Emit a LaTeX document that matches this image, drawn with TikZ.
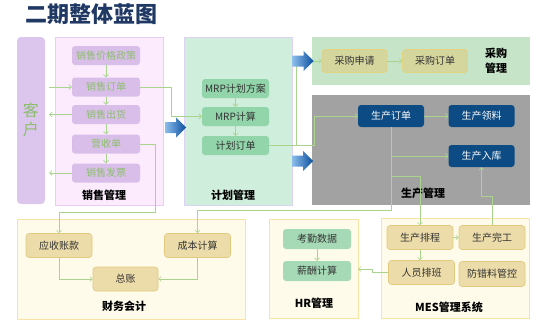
\documentclass[tikz,border=0pt]{standalone}
\usepackage{fontspec}
\setmainfont{Noto Sans CJK SC}
\usetikzlibrary{arrows.meta}
\definecolor{navy}{HTML}{1F3864}
\definecolor{custfill}{HTML}{DCC6EE}
\definecolor{salesbg}{HTML}{FBEBFD}
\definecolor{salesbd}{HTML}{EBCDF3}
\definecolor{salesnode}{HTML}{D9BEEA}
\definecolor{salestext}{HTML}{8CBE6C}
\definecolor{planbg}{HTML}{CFEEDC}
\definecolor{planbd}{HTML}{DCD2F2}
\definecolor{plannode}{HTML}{92D5AA}
\definecolor{procbg}{HTML}{C6E5C8}
\definecolor{procnode}{HTML}{D5D59E}
\definecolor{procbd}{HTML}{E3D27E}
\definecolor{prodbg}{HTML}{A2A2A2}
\definecolor{prodnode}{HTML}{0C4B83}
\definecolor{finbg}{HTML}{FEFBEA}
\definecolor{finbd}{HTML}{F8E3A2}
\definecolor{finnode}{HTML}{ECDCA9}
\definecolor{finnodebd}{HTML}{E2C97C}
\definecolor{hrnode}{HTML}{A6DAB6}
\definecolor{conn}{HTML}{A9D48E}
\definecolor{txt}{HTML}{333333}
\definecolor{arrowlight}{HTML}{8CBDEB}
\definecolor{arrowdark}{HTML}{0B4F9E}
\begin{document}
\begin{tikzpicture}[x=1pt,y=-1pt,
  panel/.style={rectangle, inner sep=0pt},
  box/.style={rectangle, rounded corners=3pt, inner sep=1pt, font=\fontsize{10}{12}\selectfont, text=txt},
  sn/.style={box, fill=salesnode, text=salestext, minimum width=68pt, minimum height=19pt},
  pn/.style={box, fill=plannode, minimum width=67pt, minimum height=19pt},
  cn/.style={box, fill=procnode, draw=procbd, line width=0.6pt, minimum width=65pt, minimum height=23pt},
  dn/.style={box, fill=prodnode, text=white, minimum width=66pt, minimum height=22pt},
  fn/.style={box, fill=finnode, draw=finnodebd, line width=0.6pt, minimum width=66pt, minimum height=24pt},
  hn/.style={box, fill=hrnode, minimum width=68pt, minimum height=20pt},
  grouptitle/.style={font=\fontsize{11}{15}\selectfont\bfseries, text=black, inner sep=0pt, align=center},
  cl/.style={draw=conn, line width=0.6pt},
  ca/.style={cl, -{Straight Barb[length=2.5pt,width=5pt]}},
  bluearrow/.style={left color=arrowlight, right color=arrowdark, draw=none}
]
\useasboundingbox (0,0) rectangle (554,324);

% title
\node[font=\fontsize{22}{24}\selectfont\bfseries, text=navy] (title) at (91,14) {二期整体蓝图};

% panels
\node[panel, fill=custfill, rounded corners=4pt, minimum width=28pt, minimum height=167pt] (kh) at (31,120.5) {};
\node[font=\fontsize{16}{19}\selectfont, text=salestext, align=center, inner sep=0pt] (khtext) at (31,120) {客\\户};
\node[panel, fill=salesbg, draw=salesbd, line width=0.8pt, minimum width=108pt, minimum height=168pt] (salesbg) at (109,121) {};
\node[panel, fill=planbg, draw=planbd, line width=0.8pt, minimum width=108pt, minimum height=168pt] (planbg) at (238,121) {};
\node[panel, fill=procbg, minimum width=218pt, minimum height=48pt] (procbg) at (421,61) {};
\node[panel, fill=prodbg, minimum width=218pt, minimum height=110pt] (prodbg) at (421,150) {};
\node[panel, fill=finbg, draw=finbd, line width=0.8pt, minimum width=228pt, minimum height=100pt] (finbg) at (131,269) {};
\node[panel, fill=finbg, draw=finbd, line width=0.8pt, minimum width=89pt, minimum height=99pt] (hrbg) at (313.5,268.5) {};
\node[panel, fill=finbg, draw=finbd, line width=0.8pt, minimum width=148pt, minimum height=100pt] (mesbg) at (455,268) {};

% sales nodes
\node[sn] (jgzc) at (106,55.5) {销售价格政策};
\node[sn] (xsdd) at (106,87) {销售订单};
\node[sn] (xsch) at (106,114.5) {销售出货};
\node[sn] (ysd) at (106,144) {营收单};
\node[sn] (xsfp) at (106,173) {销售发票};
\node[grouptitle] (t1) at (104,195) {销售管理};

% planning nodes
\node[pn] (mrpfa) at (235.5,88.5) {MRP计划方案};
\node[pn] (mrpjs) at (235.5,116.5) {MRP计算};
\node[pn] (jhdd) at (235.5,145.5) {计划订单};
\node[grouptitle] (t2) at (233,195) {计划管理};

% procurement
\node[cn] (cgsq) at (354.5,61) {采购申请};
\node[cn] (cgdd) at (435,61) {采购订单};
\node[grouptitle] (t3) at (496,61) {采购\\管理};

% production
\node[dn] (scdd) at (391,116) {生产订单};
\node[dn] (scll) at (481.5,116) {生产领料};
\node[dn] (scrk) at (481.5,156) {生产入库};
\node[grouptitle] (t4) at (423,193) {生产管理};

% finance
\node[fn] (yszk) at (59,245.5) {应收账款};
\node[fn] (cbjs) at (197.5,245.5) {成本计算};
\node[fn, minimum width=65pt] (zz) at (125.5,279) {总账};
\node[grouptitle] (t5) at (124,306) {财务会计};

% HR
\node[hn] (kqsj) at (317,239) {考勤数据};
\node[hn] (xcjs) at (317,271) {薪酬计算};
\node[grouptitle] (t6) at (314,303) {HR管理};

% MES
\node[fn] (scpc) at (420,237.5) {生产排程};
\node[fn] (scwg) at (492,237.5) {生产完工};
\node[fn] (rypb) at (421.5,272.5) {人员排班};
\node[fn, minimum height=25pt] (fclgk) at (492,274) {防错料管控};
\node[grouptitle] (t7) at (449,307) {MES管理系统};

% coordinates
\coordinate (c1) at (155,212);
\coordinate (hrin) at (358,269);

% connectors: customer
\draw[ca] ([xshift=4pt]kh.east |- xsdd.west) -- (xsdd.west);
\draw[ca] (xsch.west) -- ([xshift=4pt]kh.east |- xsch.west);
\draw[ca] (xsfp.west) -- ([xshift=4pt]kh.east |- xsfp.west);
% sales chain
\draw[ca] (jgzc.south) -- (xsdd.north);
\draw[ca] (xsdd.south) -- (xsch.north);
\draw[ca] (xsch.south) -- (ysd.north);
\draw[ca] (ysd.south) -- (xsfp.north);
% sales to planning / finance
\draw[ca] (xsdd.east) -- ++(31,0) |- (mrpjs.west);
\draw[ca] (ysd.east) -| (c1) -| (yszk.north);
% planning chain
\draw[ca] (mrpfa.south) -- (mrpjs.north);
\draw[ca] (mrpjs.south) -- (jhdd.north);
\draw[ca] (jhdd.east) -- ++(27,0) |- (cgsq.west);
\draw[ca] (jhdd.east) -- ++(45,0) |- (scdd.west);
% procurement
\draw[ca] (cgsq.east) -- (cgdd.west);
% production
\draw[ca] (scdd.east) -- (scll.west);
\draw[ca] (scdd.south) |- (scrk.west);
\draw[ca] (scdd.south) -- ++(0,49) -| (scpc.north);
\draw[ca] (scdd.south) -- ++(0,83) -| (cbjs.north);
\draw[ca] (scwg.north) -- ++(0,-29) -| (scrk.south);
% MES
\draw[ca] (scpc.east) -- (scwg.west);
\draw[ca] (scpc.south) -- (scpc.south |- rypb.north);
\draw[ca] (rypb.west) -- ++(-16,0) |- (hrin);
% HR
\draw[ca] (kqsj.south) -- (xcjs.north);
% finance
\draw[ca] (yszk.south) |- (zz.west);
\draw[ca] (cbjs.south) |- (zz.east);

% blue block arrows (shaft from x to x+11, head to x+21)
\foreach \ax/\ay in {165/127.5, 292.5/61, 292/161}{
  \shade[bluearrow] (\ax,\ay-5.5) -- (\ax+11,\ay-5.5) -- (\ax+11,\ay-10) -- (\ax+21,\ay)
     -- (\ax+11,\ay+10) -- (\ax+11,\ay+5.5) -- (\ax,\ay+5.5) -- cycle;
}
\end{tikzpicture}
\end{document}
